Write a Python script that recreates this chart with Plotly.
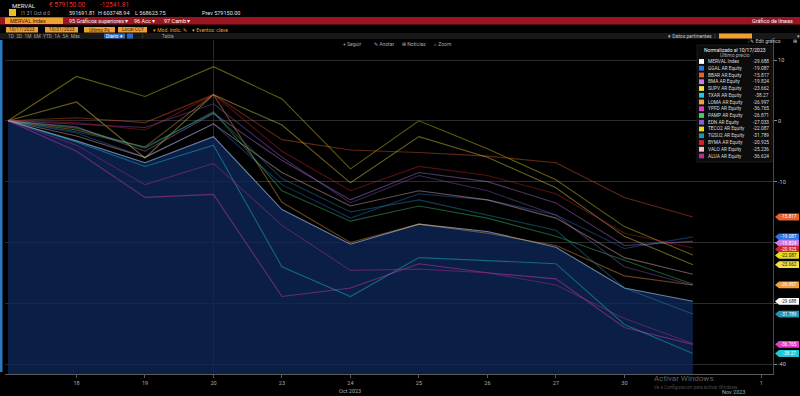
import plotly.graph_objects as go

# ---------------- data ----------------
dates = ["2023-10-17", "2023-10-18", "2023-10-19", "2023-10-20", "2023-10-23",
         "2023-10-24", "2023-10-25", "2023-10-26", "2023-10-27", "2023-10-30", "2023-10-31"]
x_idx = list(range(len(dates)))
tick_idx = [1, 2, 3, 4, 5, 6, 7, 8, 9, 11]
tick_text = ["18", "19", "20", "23", "24", "25", "26", "27", "30", "1"]
y_ticks = [10, 0, -10, -20, -30, -40]
y_tick_text = ["10", "0", "-10", "", "", "-40"]

names = ["MERVAL Index", "GGAL AR Equity", "BBAR AR Equity", "BMA AR Equity", "SUPV AR Equity",
         "TXAR AR Equity", "LOMA AR Equity", "YPFD AR Equity", "PAMP AR Equity", "EDN AR Equity",
         "TECO2 AR Equity", "TGSU2 AR Equity", "BYMA AR Equity", "VALO AR Equity", "ALUA AR Equity"]
colors = ["#ffffff", "#2f74e0", "#e8602a", "#c67ee6", "#f0e04a", "#22c8da", "#f0a040", "#e43ec8",
          "#3fcf6e", "#8c5cd0", "#e6dc22", "#2294b4", "#d42232", "#f2c2c2", "#b2308e"]

merval = [0, -3.3, -6.9, -2.6, -14.6, -20.3, -17.0, -18.2, -20.8, -27.5, -29.688]
ggal   = [0, -2.0, -6.0, -0.5, -10.5, -16.0, -12.0, -13.0, -15.5, -21.0, -19.087]
bbar   = [0, 0.5, -0.3, 4.3, -3.1, -4.8, -5.2, -5.8, -6.9, -12.6, -15.817]
bma    = [0, -1.0, -5.0, 1.2, -6.5, -13.0, -8.5, -10.0, -13.5, -20.5, -19.824]
supv   = [0, 3.1, -6.1, 4.3, -0.7, -10.2, -2.6, -6.0, -11.0, -19.0, -23.662]
txar   = [0, -3.5, -7.5, -4.0, -24.0, -28.9, -22.5, -23.0, -23.5, -33.5, -38.27]
loma   = [0, -1.5, -4.3, 4.3, -13.4, -20.0, -17.0, -18.5, -20.5, -25.5, -26.997]
ypfd   = [0, -5.0, -12.6, -12.1, -28.9, -27.5, -23.5, -25.0, -26.0, -34.0, -36.765]
pamp   = [0, -1.2, -4.5, 1.5, -11.5, -16.5, -14.0, -16.0, -19.0, -23.0, -26.871]
edn    = [0, -0.5, -1.1, 2.8, -6.0, -13.5, -9.0, -11.5, -15.5, -24.0, -27.033]
teco2  = [0, 7.3, 4.0, 8.9, 3.6, -7.9, 0.0, -4.6, -9.7, -17.4, -22.087]
tgsu2  = [0, -1.8, -4.3, 1.3, -9.5, -15.0, -13.0, -15.5, -18.0, -27.5, -31.789]
byma   = [0, -0.3, -1.5, 4.3, -5.0, -11.5, -7.5, -9.0, -12.0, -18.5, -20.925]
valo   = [0, -2.5, -6.0, -0.5, -8.5, -14.0, -11.5, -13.0, -16.0, -22.5, -25.236]
alua   = [0, -4.0, -10.5, -7.0, -17.2, -24.6, -24.4, -25.0, -27.0, -32.5, -36.624]

series = [merval, ggal, bbar, bma, supv, txar, loma, ypfd, pamp, edn, teco2, tgsu2, byma, valo, alua]
tagged = ["BBAR AR Equity", "GGAL AR Equity", "BMA AR Equity", "BYMA AR Equity", "TECO2 AR Equity",
          "SUPV AR Equity", "LOMA AR Equity", "MERVAL Index", "TGSU2 AR Equity", "YPFD AR Equity",
          "TXAR AR Equity"]

# ---------------- geometry helpers (pixel -> paper, margins are 0) ----------------
W, H = 800, 396
PLOT_TOP, PLOT_BOTTOM = 40, 374
Y_MAX, Y_MIN = 13.29, -41.64
X_MIN, X_MAX = -0.044, 11.17


def X(px):
    return px / W


def Y(py):
    return 1 - py / H


def val_to_px(v):
    return PLOT_TOP + (Y_MAX - v) / (Y_MAX - Y_MIN) * (PLOT_BOTTOM - PLOT_TOP)


def hex_rgba(h, a):
    h = h.lstrip("#")
    return "rgba(%d,%d,%d,%.2f)" % (int(h[0:2], 16), int(h[2:4], 16), int(h[4:6], 16), a)


FONT = "Roboto, Liberation Sans, sans-serif"

fig = go.Figure()

# baseline for the MERVAL area fill (bottom of axis)
fig.add_trace(go.Scatter(x=x_idx, y=[Y_MIN] * len(x_idx), mode="lines",
                         line=dict(width=0, color="rgba(0,0,0,0)"), hoverinfo="skip"))
fig.add_trace(go.Scatter(x=x_idx, y=merval, mode="lines", fill="tonexty",
                         fillcolor="rgba(14,38,88,0.78)",
                         line=dict(color="rgba(150,175,215,0.7)", width=1.1), name=names[0]))

for nm, col, ys in zip(names[1:], colors[1:], series[1:]):
    fig.add_trace(go.Scatter(x=x_idx, y=ys, mode="lines", name=nm,
                             line=dict(color=hex_rgba(col, 0.42), width=1.1)))

shapes = []
ann = []


def txt(x, y, s, color="#c8c8c8", size=6, anchor="left", bg=None):
    d = dict(x=X(x), y=Y(y), xref="paper", yref="paper", text=s, showarrow=False,
             xanchor=anchor, yanchor="middle", font=dict(color=color, size=size, family=FONT))
    if bg:
        d["bgcolor"] = bg
    ann.append(d)


def rect(x0, y0, x1, y1, color, line=None):
    shapes.append(dict(type="rect", xref="paper", yref="paper", x0=X(x0), x1=X(x1),
                       y0=Y(y1), y1=Y(y0), fillcolor=color,
                       line=dict(width=0 if line is None else 0.6, color=line or color),
                       layer="above"))


# ---------------- Bloomberg header ----------------
txt(10, 5, "MERVAL", "#e8e8e8", 6)
txt(47, 5, "€ 579150.00", "#e83030", 6.5)
txt(98, 5, "-12541.81", "#e83030", 6.5)
rect(9, 9, 16, 16, "#e8c020")
txt(19, 12.5, "I1 31 Oct d 0", "#9a9a9a", 5.2)
txt(67, 12.5, "591691.81", "#e0e0e0", 5.5)
txt(96, 12.5, "H 603748.94", "#e0e0e0", 5.5)
txt(133, 12.5, "L 568623.75", "#e0e0e0", 5.5)
txt(200, 12.5, "Prev 579150.00", "#e0e0e0", 5.5)

rect(0, 17, 800, 24.5, "#9c1422")
rect(5, 17.5, 63, 24, "#f0a030")
txt(8, 21, "MERVAL Index", "#3a2000", 5.5)
txt(67, 21, "95 Gráficos superiores ▾", "#f4f4f4", 5.5)
txt(132, 21, "96 Acc ▾", "#f4f4f4", 5.5)
txt(162, 21, "97 Camb ▾", "#f4f4f4", 5.5)
txt(795, 21, "Gráfico de líneas", "#f4f4f4", 5.5, anchor="right")

for (a, b, s) in [(6, 38, "10/17/2023"), (45, 78, "10/31/2023"), (84, 115, "Último Px"),
                  (118, 147, "Local CCY")]:
    rect(a, 27, b, 32.5, "#f0a030")
    txt((a + b) / 2, 29.8, s, "#3a2000", 4.8, anchor="center")
txt(151, 29.8, "▾ Mod. índic. ✎", "#e8a030", 5)
txt(190, 29.8, "▾ Eventos: clave", "#e8a030", 5)

rect(0, 33, 800, 39, "#181818")
txt(6, 36, "1D  3D  1M  6M  YTD  1A  5A  Máx", "#a0a0a0", 4.8)
rect(104, 33.5, 125, 38.5, "#2a68c8")
txt(114.5, 36, "Diario ▾", "#ffffff", 4.8, anchor="center")
rect(127, 33.5, 133, 38.5, "#2a68c8")
txt(140, 36, "⁝", "#a0a0a0", 5)
txt(160, 36, "Tabla", "#a0a0a0", 4.8)
txt(666, 36, "▾ Datos pertinentes  ⁝", "#c8c8c8", 5)
rect(719, 33.5, 752, 38.5, "#f0a030")
txt(795, 36, "▾", "#c8c8c8", 5)

txt(341, 44.5, "+ Seguir", "#a8a8a8", 5)
txt(372, 44.5, "✎ Anotar", "#a8a8a8", 5)
txt(400, 44.5, "⊞ Noticias", "#a8a8a8", 5)
txt(432, 44.5, "⌕ Zoom", "#a8a8a8", 5)
txt(746, 41.5, "⁝ ✎ Edit gráfico", "#c8c8c8", 5)
txt(791, 41.5, "⊞", "#c8c8c8", 5)

# left window edge
rect(0, 40, 2.5, 372, "#2a78c0")

# ---------------- legend box ----------------
rect(697, 45, 772, 162, "#0c0c0c", line="#2a2a2a")
txt(734.5, 49.5, "Normalizado al 10/17/2023", "#f0f0f0", 5, anchor="center")
txt(734.5, 55.5, "Último precio", "#b0b0b0", 5, anchor="center")
for i, (nm, col, ys) in enumerate(zip(names, colors, series)):
    yy = 61.5 + i * 6.75
    rect(699, yy - 2.4, 704, yy + 2.4, col)
    txt(706, yy, nm, "#d8d8d8", 4.8)
    txt(771, yy, "%g" % ys[-1], "#d8d8d8", 4.8, anchor="right")

# ---------------- last-value tags on the right axis (stacked like the terminal) ----------------
tag_items = sorted([(val_to_px(ys[-1]), nm, col, ys[-1])
                    for nm, col, ys in zip(names, colors, series) if nm in tagged])
placed = []
last = -1e9
for py, nm, col, v in tag_items:
    py = max(py, last + 6.2)
    last = py
    placed.append((py, nm, col, v))

for py, nm, col, v in placed:
    top, bot = py - 3.4, py + 3.4
    shapes.append(dict(type="path", xref="paper", yref="paper", layer="above",
                       path="M %f,%f L %f,%f L %f,%f L %f,%f L %f,%f Z" % (
                           X(775), Y(py), X(779), Y(top), X(799), Y(top), X(799), Y(bot),
                           X(779), Y(bot)),
                       fillcolor=col, line=dict(width=0)))
    dark = nm in ("MERVAL Index", "TECO2 AR Equity", "SUPV AR Equity")
    txt(789, py, "%g" % v, "#202020" if dark else "#ffffff", 4.6, anchor="center")

# ---------------- bottom labels ----------------
ann.append(dict(x=5, y=Y(391), xref="x", yref="paper", text="Oct 2023", showarrow=False,
                xanchor="center", yanchor="middle", font=dict(color="#a8a8a8", size=5.5, family=FONT)))
ann.append(dict(x=10.6, y=Y(392), xref="x", yref="paper", text="Nov 2023", showarrow=False,
                xanchor="center", yanchor="middle", font=dict(color="#a8a8a8", size=5.5, family=FONT)))
txt(652, 378, "Activar Windows", "rgba(255,255,255,0.38)", 8)
txt(652, 386.5, "Ve a Configuración para activar Windows.", "rgba(255,255,255,0.30)", 4.6)

fig.update_layout(
    width=W, height=H, margin=dict(l=0, r=0, t=0, b=0),
    paper_bgcolor="#000000", plot_bgcolor="#000000", showlegend=False,
    shapes=shapes, annotations=ann,
    font=dict(family=FONT, color="#a8a8a8", size=6),
    xaxis=dict(domain=[X(5), X(773)], range=[X_MIN, X_MAX], tickmode="array",
               tickvals=tick_idx, ticktext=tick_text, showgrid=False,
               zeroline=False, showline=True, linecolor="#5a5a5a", linewidth=1,
               ticks="outside", ticklen=3, tickcolor="#5a5a5a",
               tickfont=dict(color="#a8a8a8", size=5.5), automargin=False),
    yaxis=dict(domain=[Y(PLOT_BOTTOM), Y(PLOT_TOP)], range=[Y_MIN, Y_MAX], side="right",
               tickmode="array", tickvals=y_ticks, ticktext=y_tick_text,
               showgrid=True, gridcolor="#2c2c2c", zeroline=False,
               showline=True, linecolor="#4a4a4a", linewidth=1,
               ticks="outside", ticklen=3, tickcolor="#888888",
               tickfont=dict(color="#c0c0c0", size=5.5), automargin=False),
)
# only one vertical grid line in the reference (at Oct 20)
fig.add_vline(x=3, line=dict(color="#2a2a2a", width=1), layer="below")

fig.write_html("out.html", config={"displayModeBar": False},
               post_script="document.body.style.margin='0';document.body.style.overflow='hidden';")
